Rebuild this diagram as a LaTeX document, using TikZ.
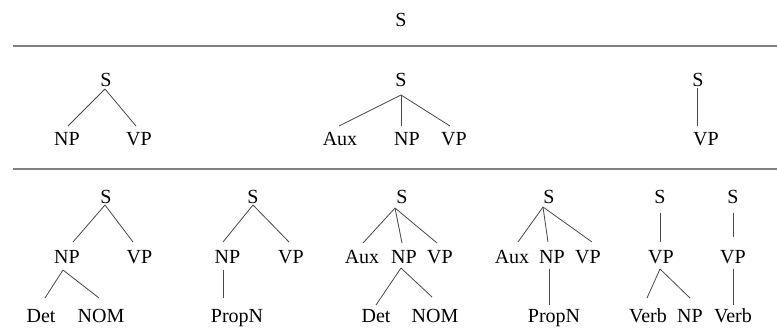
\documentclass[tikz,border=0pt]{standalone}
\usepackage{fontspec}
\setmainfont{Liberation Serif}
\tikzset{
  lbl/.style={inner sep=0pt, anchor=base, font=\fontsize{20}{24}\selectfont},
  edge/.style={draw=black!72, line width=0.8pt},
  rule/.style={draw=black!50, line width=1.3pt}
}
\begin{document}
\begin{tikzpicture}[x=1pt,y=-1pt]
\useasboundingbox (0,0) rectangle (777,333);
% top
\node[lbl] (s0) at (401,26) {S};
\coordinate (r1l) at (13,46); \coordinate (r1r) at (777,46);
\coordinate (r2l) at (13,169); \coordinate (r2r) at (777,169);
\draw[rule] (r1l) -- (r1r);
\draw[rule] (r2l) -- (r2r);
% middle row
\node[lbl] (s1) at (106,86) {S};
\node[lbl] (np1) at (67,145) {NP};
\node[lbl] (vp1) at (139,145) {VP};
\draw[edge] ([shift={(-1,3)}]s1.base) -- ([shift={(1,-19)}]np1.base);
\draw[edge] ([shift={(-1,3)}]s1.base) -- ([shift={(-3,-19)}]vp1.base);
\node[lbl] (s2) at (401,86) {S};
\node[lbl] (aux2) at (340,145) {Aux};
\node[lbl] (np2) at (407,145) {NP};
\node[lbl] (vp2) at (454,145) {VP};
\draw[edge] ([shift={(0,9)}]s2.base) -- ([shift={(-1,-19)}]aux2.base);
\draw[edge] ([shift={(0,9)}]s2.base) -- ([shift={(-6,-19)}]np2.base);
\draw[edge] ([shift={(0,9)}]s2.base) -- ([shift={(-4,-19)}]vp2.base);
\node[lbl] (s3) at (698,86) {S};
\node[lbl] (vp3) at (706,145) {VP};
\draw[edge] ([shift={(-1,2)}]s3.base) -- ([shift={(-9,-19)}]vp3.base);
% bottom row: tree A
\node[lbl] (sA) at (106,203) {S};
\node[lbl] (npA) at (67,263) {NP};
\node[lbl] (vpA) at (139.5,263) {VP};
\node[lbl] (detA) at (41,322) {Det};
\node[lbl] (nomA) at (101,322) {NOM};
\draw[edge] ([shift={(-1,2)}]sA.base) -- ([shift={(6,-21)}]npA.base);
\draw[edge] ([shift={(-1,2)}]sA.base) -- ([shift={(-6.5,-21)}]vpA.base);
\draw[edge] ([shift={(-4,7)}]npA.base) -- ([shift={(4,-24)}]detA.base);
\draw[edge] ([shift={(-4,7)}]npA.base) -- ([shift={(-2,-24)}]nomA.base);
% tree B
\node[lbl] (sB) at (253,203) {S};
\node[lbl] (npB) at (227.5,263) {NP};
\node[lbl] (vpB) at (291,263) {VP};
\node[lbl] (propB) at (237,322) {PropN};
\draw[edge] ([shift={(0,2)}]sB.base) -- ([shift={(-4.5,-21)}]npB.base);
\draw[edge] ([shift={(0,2)}]sB.base) -- ([shift={(-2,-21)}]vpB.base);
\draw[edge] ([shift={(-4.5,7)}]npB.base) -- ([shift={(-14,-24)}]propB.base);
% tree C
\node[lbl] (sC) at (402,203) {S};
\node[lbl] (auxC) at (362,263) {Aux};
\node[lbl] (npC) at (404,263) {NP};
\node[lbl] (vpC) at (440,263) {VP};
\node[lbl] (detC) at (376,322) {Det};
\node[lbl] (nomC) at (435,322) {NOM};
\draw[edge] ([shift={(-7,5)}]sC.base) -- ([shift={(1,-20)}]auxC.base);
\draw[edge] ([shift={(-7,5)}]sC.base) -- ([shift={(-2,-20)}]npC.base);
\draw[edge] ([shift={(-7,5)}]sC.base) -- ([shift={(-3,-20)}]vpC.base);
\draw[edge] ([shift={(-3,5)}]npC.base) -- ([shift={(0,-17)}]detC.base);
\draw[edge] ([shift={(-3,5)}]npC.base) -- ([shift={(-3,-25)}]nomC.base);
% tree D
\node[lbl] (sD) at (549,203) {S};
\node[lbl] (auxD) at (512,263) {Aux};
\node[lbl] (npD) at (552,263) {NP};
\node[lbl] (vpD) at (588,263) {VP};
\node[lbl] (propD) at (554,322) {PropN};
\draw[edge] ([shift={(-6,4)}]sD.base) -- ([shift={(6,-21)}]auxD.base);
\draw[edge] ([shift={(-6,4)}]sD.base) -- ([shift={(-4,-21)}]npD.base);
\draw[edge] ([shift={(-6,4)}]sD.base) -- ([shift={(4,-21)}]vpD.base);
\draw[edge] ([shift={(-3,6)}]npD.base) -- ([shift={(-5,-17)}]propD.base);
% tree E
\node[lbl] (sE) at (660,203) {S};
\node[lbl] (vpE) at (661,263) {VP};
\node[lbl] (verbE) at (648,322) {Verb};
\node[lbl] (npE) at (690,322) {NP};
\draw[edge] ([shift={(0,10)}]sE.base) -- ([shift={(-1,-21)}]vpE.base);
\draw[edge] ([shift={(-1,6)}]vpE.base) -- ([shift={(-1,-24)}]verbE.base);
\draw[edge] ([shift={(-1,6)}]vpE.base) -- ([shift={(0,-24)}]npE.base);
% tree F
\node[lbl] (sF) at (733,203) {S};
\node[lbl] (vpF) at (733,263) {VP};
\node[lbl] (verbF) at (733,322) {Verb};
\draw[edge] ([shift={(0,10)}]sF.base) -- ([shift={(0,-26)}]vpF.base);
\draw[edge] ([shift={(0,6)}]vpF.base) -- ([shift={(0,-17)}]verbF.base);
\end{tikzpicture}
\end{document}
